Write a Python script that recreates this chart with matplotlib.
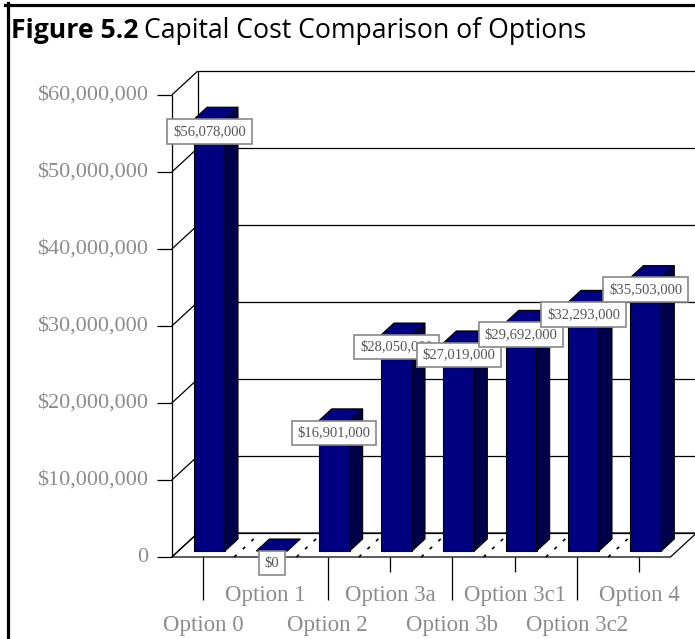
import matplotlib
matplotlib.use("Agg")
import matplotlib.pyplot as plt
from matplotlib.patches import Polygon
from matplotlib.lines import Line2D
from matplotlib.transforms import IdentityTransform

# ---- data -------------------------------------------------------------
options = ["Option 0", "Option 1", "Option 2", "Option 3a", "Option 3b",
           "Option 3c1", "Option 3c2", "Option 4"]
costs = [56078000, 0, 16901000, 28050000, 27019000, 29692000, 32293000, 35503000]
cost_labels = ["$56,078,000", "$0", "$16,901,000", "$28,050,000", "$27,019,000",
               "$29,692,000", "$32,293,000", "$35,503,000"]
y_ticks = [0, 10e6, 20e6, 30e6, 40e6, 50e6, 60e6]
y_tick_labels = ["0", "$10,000,000", "$20,000,000", "$30,000,000",
                 "$40,000,000", "$50,000,000", "$60,000,000"]

# ---- figure / coordinate system ----------------------------------------
W, H = 695, 639
fig = plt.figure(figsize=(W / 100, H / 100), dpi=100)
ax = fig.add_axes([0, 0, 1, 1])
ax.axis("off")

x0_px, step_px = 203.0, 62.33          # first category position, spacing
y0_px, ppu = 557.0, 7.7e-6             # zero line, pixels per dollar
ax.set_xlim(-x0_px / step_px, (W - x0_px) / step_px)
ax.set_ylim((y0_px - H) / ppu, y0_px / ppu)

# oblique depth vector of the 3-D box (in data units)
ddx = 26 / step_px
ddy = 24 / ppu
f0, f1 = 0.25, 0.75                   # bar depth span
hw = 15.5 / step_px                   # half bar width
n = len(options)
left, right = -0.5, n - 0.5
ymax = y_ticks[-1]

line_kw = dict(color="black", lw=0.9, solid_capstyle="butt")
serif = "Liberation Serif"
axis_gray = "#8c8c8c"

# floor
ax.add_patch(Polygon([(left, 0), (right, 0), (right + ddx, ddy), (left + ddx, ddy)],
                     closed=True, fc="white", ec="black", lw=0.9, zorder=1))
# category separators on the floor
for k in range(n - 1):
    b = k + 0.5
    ax.add_line(Line2D([b, b + ddx], [0, ddy], color="black", lw=1.2,
                       linestyle=(0, (2, 5)), zorder=1.5))

# left wall and back-wall grid
ax.add_line(Line2D([left, left], [0, ymax], zorder=2, **line_kw))
ax.add_line(Line2D([left + ddx, left + ddx], [ddy, ymax + ddy], zorder=2, **line_kw))
xr_edge = ax.get_xlim()[1]
for t, lab in zip(y_ticks, y_tick_labels):
    ax.add_line(Line2D([left, left + ddx], [t, t + ddy], zorder=2, **line_kw))
    ax.add_line(Line2D([left + ddx, xr_edge], [t + ddy, t + ddy], zorder=2, **line_kw))
    ax.add_line(Line2D([left - 15 / step_px, left], [t, t], zorder=2, **line_kw))
    ax.text(left - 24 / step_px, t, lab, ha="right", va="center", fontsize=16,
            family=serif, color=axis_gray)

# bars
front_c, side_c, top_c = "#000080", "#00004a", "#000080"
for i, v in enumerate(costs):
    xl = i + f0 * ddx - hw
    xr = i + f0 * ddx + hw
    yb = f0 * ddy
    yt = yb + v
    dx = (f1 - f0) * ddx
    dy = (f1 - f0) * ddy
    if v > 0:
        ax.add_patch(Polygon([(xl, yb), (xr, yb), (xr, yt), (xl, yt)], closed=True,
                             fc=front_c, ec="black", lw=0.8, zorder=3))
        ax.add_patch(Polygon([(xr, yb), (xr + dx, yb + dy), (xr + dx, yt + dy), (xr, yt)],
                             closed=True, fc=side_c, ec="black", lw=0.8, zorder=3))
    ax.add_patch(Polygon([(xl, yt), (xr, yt), (xr + dx, yt + dy), (xl + dx, yt + dy)],
                         closed=True, fc=top_c, ec="black", lw=0.8, zorder=3))

# category ticks and staggered labels
for i, name in enumerate(options):
    if i % 2 == 0:
        ax.add_line(Line2D([i, i], [0, -43 / ppu], zorder=2, **line_kw))
        ax.text(i, -68 / ppu, name, ha="center", va="center", fontsize=16.5,
                family=serif, color=axis_gray)
    else:
        ax.add_line(Line2D([i, i], [0, -15 / ppu], zorder=2, **line_kw))
        ax.text(i, -39 / ppu, name, ha="center", va="center", fontsize=16.5,
                family=serif, color=axis_gray)

# value labels
for i, (v, lab) in enumerate(zip(costs, cost_labels)):
    ax.text(i + f0 * ddx, v - f0 * ddy, lab, ha="center", va="center",
            fontsize=10.5, family=serif, color="#555555", zorder=5,
            bbox=dict(boxstyle="square,pad=0.4", fc="white", ec="#888888", lw=1.2))

# title
t1 = fig.text(11 / W, 1 - 38 / H, "Figure 5.2", fontsize=19.2, weight="bold",
              family="Open Sans", va="baseline", ha="left")
fig.canvas.draw()
bb = t1.get_window_extent()
fig.text((bb.x1 + 5) / W, 1 - 38 / H, "Capital Cost Comparison of Options",
         fontsize=19.2, family="Open Sans", va="baseline", ha="left")

# frame lines
fig.add_artist(Line2D([5, W], [H - 4.5, H - 4.5], lw=2.3, color="black",
                      transform=IdentityTransform()))
fig.add_artist(Line2D([7.5, 7.5], [H - 3, 0], lw=2.3, color="black",
                      transform=IdentityTransform()))

fig.savefig("out.png", dpi=100)
